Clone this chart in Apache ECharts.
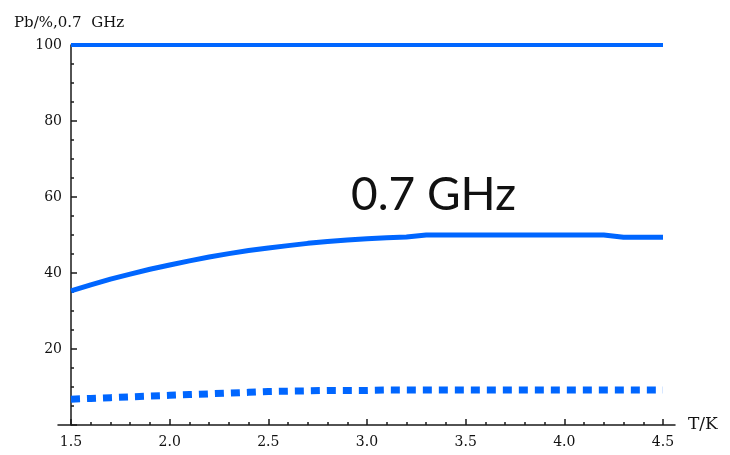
<!DOCTYPE html>
<html>
<head>
<meta charset="utf-8">
<script src="https://cdn.jsdelivr.net/npm/echarts@6/dist/echarts.min.js"></script>
<style>html,body{margin:0;padding:0;background:#fff;}#c{width:730px;height:455px;}</style>
</head>
<body>
<div id="c"></div>
<script>
var temps = [1.5,1.6,1.7,1.8,1.9,2.0,2.1,2.2,2.3,2.4,2.5,2.6,2.7,2.8,2.9,3.0,3.1,3.2,3.3,3.4,3.5,3.6,3.7,3.8,3.9,4.0,4.1,4.2,4.3,4.4,4.5];
var upper = [100,100,100,100,100,100,100,100,100,100,100,100,100,100,100,100,100,100,100,100,100,100,100,100,100,100,100,100,100,100,100];
var middle = [35.3,36.9,38.4,39.7,41.0,42.1,43.2,44.2,45.1,45.9,46.6,47.2,47.8,48.3,48.7,49.0,49.3,49.5,50.0,50.0,50.0,50.0,50.0,50.0,50.0,50.0,50.0,50.0,49.4,49.4,49.4];
var lower = [6.8,7.0,7.2,7.4,7.6,7.8,8.0,8.2,8.4,8.6,8.8,8.9,9.0,9.1,9.1,9.1,9.2,9.2,9.2,9.2,9.2,9.2,9.2,9.2,9.2,9.2,9.2,9.2,9.2,9.2,9.2];
var xTicks = [1.5, 4.5, 0.5];
var yTicks = [0, 100, 20];
var titleText = 'Pb/%,0.7  GHz';
var xName = 'T/K';
var annotation = '0.7 GHz';

function pairs(vals){ return temps.map(function(t,i){ return [t, vals[i]]; }); }

var blue = '#0066FF';
var axisColor = '#1a1a1a';
var serif = 'DejaVu Serif';

var chart = echarts.init(document.getElementById('c'), null, {renderer:'canvas'});
chart.setOption({
  animation: false,
  backgroundColor: '#fff',
  title: {
    text: titleText, left: 9, top: 11,
    textStyle: {fontFamily: serif, fontSize: 15, fontWeight: 'normal', color: '#111'}
  },
  grid: [
    {left: 71, right: 67, top: 45, bottom: 30},
    {left: 58, right: 55, top: 45, bottom: 30}
  ],
  xAxis: [
    {
      type: 'value', gridIndex: 0, min: xTicks[0], max: xTicks[1], interval: xTicks[2],
      name: xName, nameLocation: 'end', nameGap: 25,
      nameTextStyle: {fontFamily: serif, fontSize: 17, color: '#111', verticalAlign: 'middle', padding: [0,0,4,0]},
      axisLine: {show: false},
      axisTick: {show: true, inside: true, length: 6, lineStyle: {color: axisColor, width: 1.5}},
      minorTick: {show: true, splitNumber: 5, length: 3, lineStyle: {color: axisColor, width: 1.5}},
      axisLabel: {fontFamily: serif, fontSize: 14, color: '#111', margin: 10,
        formatter: function(v){ return v.toFixed(1); }},
      splitLine: {show: false}
    },
    {
      type: 'value', gridIndex: 1, min: 0, max: 1,
      axisLine: {show: true, lineStyle: {color: axisColor, width: 1.5}},
      axisTick: {show: false}, axisLabel: {show: false}, splitLine: {show: false}
    }
  ],
  yAxis: [
    {
      type: 'value', gridIndex: 0, min: yTicks[0], max: yTicks[1], interval: yTicks[2],
      axisLine: {show: true, lineStyle: {color: axisColor, width: 1.5}},
      axisTick: {show: true, inside: true, length: 6, lineStyle: {color: axisColor, width: 1.5}},
      minorTick: {show: true, splitNumber: 4, length: 3, lineStyle: {color: axisColor, width: 1.5}},
      axisLabel: {fontFamily: serif, fontSize: 14, color: '#111', margin: 9,
        formatter: function(v){ return v === 0 ? '' : String(v); }},
      splitLine: {show: false}
    },
    {
      type: 'value', gridIndex: 1, show: false, min: 0, max: 1
    }
  ],
  series: [
    {type: 'line', xAxisIndex: 0, yAxisIndex: 0, data: pairs(upper), showSymbol: false,
      lineStyle: {color: blue, width: 4}},
    {type: 'line', xAxisIndex: 0, yAxisIndex: 0, data: pairs(middle), showSymbol: false,
      lineStyle: {color: blue, width: 5}},
    {type: 'line', xAxisIndex: 0, yAxisIndex: 0, data: pairs(lower), showSymbol: false,
      lineStyle: {color: blue, width: 7, type: [9, 7], cap: 'butt'}}
  ],
  graphic: [
    {type: 'text', left: 351, top: 172,
      style: {text: annotation, font: '46px Lato', fill: '#111'}}
  ]
});
</script>
</body>
</html>
